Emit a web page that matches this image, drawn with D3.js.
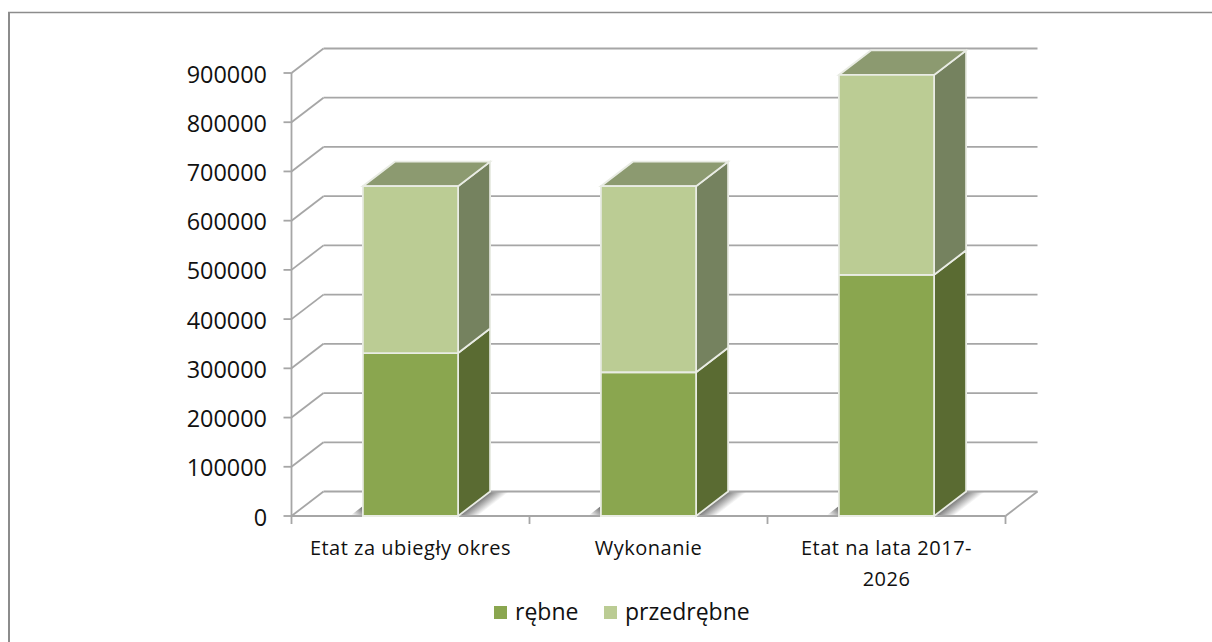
<!DOCTYPE html>
<html><head><meta charset="utf-8">
<script src="https://cdn.jsdelivr.net/npm/d3@7/dist/d3.min.js"></script>
<style>html,body{margin:0;padding:0;background:#fff}svg{display:block}text{font-family:"Open Sans",sans-serif;fill:#111}</style>
</head><body><div id="c"></div>
<script>
const categories = ["Etat za ubiegły okres","Wykonanie","Etat na lata 2017-2026"];
const categoryLines = [["Etat za ubiegły okres"],["Wykonanie"],["Etat na lata 2017-","2026"]];
const rebne = [331000,292000,490000];
const przedrebne = [339000,378000,406000];
const seriesNames = ["rębne","przedrębne"];
const yTicks = [0,100000,200000,300000,400000,500000,600000,700000,800000,900000];

const W=1212,H=642, x0=291.5,x1=1005.5,yB=516,yT=73, dx=32,dy=-24.5, grid="#a6a6a6";
const svg=d3.select("#c").append("svg").attr("width",W).attr("height",H);
const x=d3.scaleBand().domain(categories).range([x0,x1]).paddingInner(0.6).paddingOuter(0.3);
const y=d3.scaleLinear().domain([0,900000]).range([yB,yT]);
const defs=svg.append("defs");

const g2=defs.append("linearGradient").attr("id","shL").attr("x1",1).attr("y1",0.3).attr("x2",0.2).attr("y2",1);
g2.append("stop").attr("offset",0).attr("stop-color","#7a7a7a");
g2.append("stop").attr("offset",1).attr("stop-color","#fff");

svg.append("line").attr("x1",9).attr("y1",12).attr("x2",9).attr("y2",H).attr("stroke","#8c8c8c").attr("stroke-width",2);
svg.append("line").attr("x1",8).attr("y1",12.5).attr("x2",W).attr("y2",12.5).attr("stroke","#8c8c8c").attr("stroke-width",1.4);

const line=(a,b,c,d,w)=>svg.append("line").attr("x1",a).attr("y1",b).attr("x2",c).attr("y2",d).attr("stroke",grid).attr("stroke-width",w||1.8);
const poly=(pts,fill,stroke)=>svg.append("polygon").attr("points",pts.map(p=>p.join(",")).join(" ")).attr("fill",fill).attr("stroke",stroke||"none").attr("stroke-width",stroke?1.8:0);

// floor shadows sit under the gridlines
categories.forEach((c,i)=>{
  const a=x(c),b=a+x.bandwidth();
  const id="sh"+i;
  const gr=defs.append("linearGradient").attr("id",id).attr("gradientUnits","userSpaceOnUse")
    .attr("x1",b+dx/2).attr("y1",yB+dy/2).attr("x2",b+dx/2+7.3).attr("y2",yB+dy/2+9.5);
  gr.append("stop").attr("offset",0).attr("stop-color","#757575");
  gr.append("stop").attr("offset",1).attr("stop-color","#fff");
  poly([[b,yB],[b+dx,yB+dy],[b+dx+20,yB+dy],[b+20,yB]],`url(#${id})`);
  poly([[a-13,yB],[a,yB-10],[a,yB]],"url(#shL)");
});

yTicks.forEach(t=>{const v=y(t);
  line(x0,v,x0+dx,v+dy); line(x0+dx,v+dy,x1+dx,v+dy);
  line(x0-8,v,x0,v);
  svg.append("text").attr("x",267).attr("y",v+9.5).attr("text-anchor","end").attr("font-size",23.4).text(t);
});
line(x0,yT,x0,yB+8); line(x0,yB,x1,yB); line(x1,yB,x1+dx,yB+dy);
categories.forEach((c,i)=>line(x0+(x1-x0)/3*(i+1),yB,x0+(x1-x0)/3*(i+1),yB+8));

const stroke="#e9ece4";
categories.forEach((c,i)=>{
  const a=x(c),b=a+x.bandwidth();
  const v0=y(0),v1=y(rebne[i]),v2=y(rebne[i]+przedrebne[i]);
  poly([[b,v0],[b+dx,v0+dy],[b+dx,v1+dy],[b,v1]],"#5a6b32",stroke);
  poly([[b,v1],[b+dx,v1+dy],[b+dx,v2+dy],[b,v2]],"#75825f",stroke);
  poly([[a,v2],[b,v2],[b+dx,v2+dy],[a+dx,v2+dy]],"#8c9a70",stroke);
  poly([[a,v0],[b,v0],[b,v1],[a,v1]],"#8aa64f",stroke);
  poly([[a,v1],[b,v1],[b,v2],[a,v2]],"#bbcc94",stroke);
  categoryLines[i].forEach((t,j)=>svg.append("text").attr("x",a+x.bandwidth()/2).attr("y",554.5+j*31).attr("text-anchor","middle").attr("font-size",20).attr("letter-spacing",0.5).text(t));
});
const leg=[[494,"#8aa64f"],[604,"#bbcc94"]];
seriesNames.forEach((n,i)=>{
  svg.append("rect").attr("x",leg[i][0]).attr("y",606).attr("width",13).attr("height",13).attr("fill",leg[i][1]);
  svg.append("text").attr("x",leg[i][0]+21).attr("y",620).attr("font-size",23).text(n);
});
</script></body></html>
